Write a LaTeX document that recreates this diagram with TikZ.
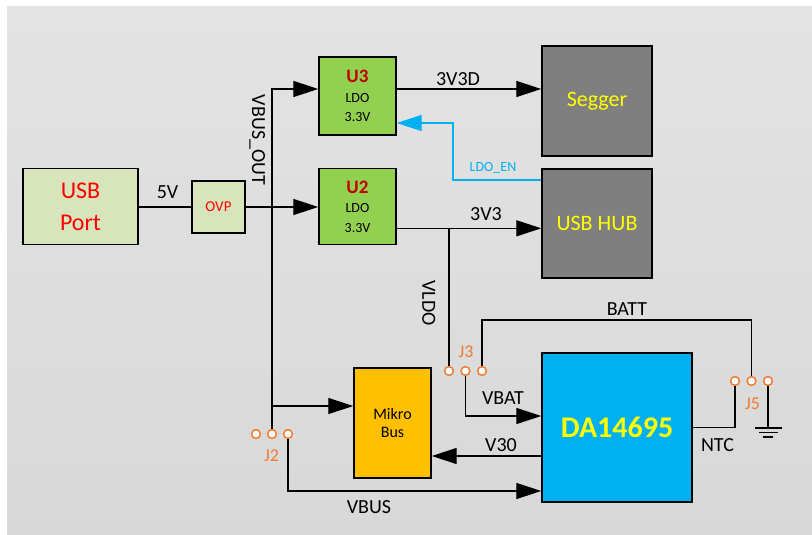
\documentclass[tikz,border=0pt]{standalone}
\usepackage{fontspec}
\setmainfont{Carlito}
\usetikzlibrary{arrows.meta}
\definecolor{bgtop}{HTML}{E3E3E3}
\definecolor{bgbot}{HTML}{D8D8D8}
\definecolor{palegreen}{HTML}{D8E4BC}
\definecolor{ldogreen}{HTML}{92D050}
\definecolor{darkred}{HTML}{C00000}
\definecolor{boxgray}{HTML}{7F7F7F}
\definecolor{mikroyel}{HTML}{FFC000}
\definecolor{dablue}{HTML}{00B0F0}
\definecolor{pinorange}{HTML}{ED7D31}
\definecolor{txtyellow}{HTML}{FFFF00}
\definecolor{txtred}{HTML}{FF0000}
\begin{document}
\begin{tikzpicture}[x=1pt,y=-1pt,
  box/.style={draw=black, line width=1.4pt, inner sep=0pt, align=center},
  wire/.style={draw=black, line width=1.3pt},
  arr/.style={wire, -{Triangle[length=25pt,width=16pt]}},
  bluearr/.style={draw=dablue, line width=1.3pt, -{Triangle[length=25pt,width=16pt]}},
  pin/.style={circle, draw=pinorange, fill=white, line width=1.5pt, minimum size=8.8pt, inner sep=0pt},
  lbl/.style={inner sep=0pt, font=\fontsize{20}{24}\selectfont},
  pinlbl/.style={inner sep=0pt, text=pinorange, font=\fontsize{18}{22}\selectfont},
  ldotxt/.style={font=\fontsize{14}{19.5}\selectfont}
]
\useasboundingbox (0,0) rectangle (812,535);
\fill[white] (0,0) rectangle (812,535);
\shade[top color=bgtop, bottom color=bgbot] (7,7) rectangle (818,541);

% boxes
\node[box, fill=palegreen, minimum width=115pt, minimum height=76pt, text=txtred,
      font=\fontsize{24}{32}\selectfont] (usb) at (80.5,206.5) {USB\\Port};
\node[box, fill=palegreen, minimum width=53pt, minimum height=52pt, text=txtred,
      font=\fontsize{15}{18}\selectfont] (ovp) at (218.5,207) {OVP};
\node[box, fill=ldogreen, minimum width=77pt, minimum height=78pt, ldotxt] (u3) at (357.5,96)
      {{\fontsize{19}{21}\selectfont\bfseries\color{darkred}U3}\\LDO\\3.3V};
\node[box, fill=ldogreen, minimum width=77pt, minimum height=76pt, ldotxt] (u2) at (357.5,206.5)
      {{\fontsize{19}{21}\selectfont\bfseries\color{darkred}U2}\\LDO\\3.3V};
\node[box, fill=boxgray, minimum width=110pt, minimum height=110pt, text=txtyellow,
      font=\fontsize{22}{26}\selectfont] (segger) at (597,101) {Segger};
\node[box, fill=boxgray, minimum width=110pt, minimum height=109pt, text=txtyellow,
      font=\fontsize{22}{26}\selectfont] (hub) at (597,223.5) {USB HUB};
\node[box, fill=mikroyel, minimum width=77pt, minimum height=110pt,
      font=\fontsize{16}{18.5}\selectfont] (mikro) at (392.5,423) {Mikro\\Bus};
\node[box, fill=dablue, minimum width=150pt, minimum height=149pt, text=txtyellow,
      font=\fontsize{30}{34}\selectfont\bfseries] (da) at (617,427.5) {DA14695};

% pins
\node[pin] (j2a) at (256,434) {};
\node[pin] (j2b) at (272,434) {};
\node[pin] (j2c) at (288,434) {};
\node[pin] (j3a) at (449,371) {};
\node[pin] (j3b) at (465.5,371) {};
\node[pin] (j3c) at (482,371) {};
\node[pin] (j5a) at (735,381) {};
\node[pin] (j5b) at (751.5,381) {};
\node[pin] (j5c) at (768,381) {};

% coordinates
\coordinate (vtop) at (272,89);
\coordinate (en1) at (453,123);
\coordinate (jn) at (449,228.3);
\coordinate (batt) at (600,320);
\coordinate (gnd) at (768,428);

% connectors
\draw[wire] (usb.east |- ovp.west) -- (ovp.west);
\draw[arr] (ovp.east) -- (ovp.east -| u2.west);
\draw[arr] (j2b.north) -- (vtop) -- (vtop -| u3.west);
\draw[arr] (vtop -| u3.east) -- (vtop -| segger.west);
\draw[bluearr] ([yshift=43.5pt]hub.west) -| (en1) -- (en1 -| u3.east);
\draw[arr] (jn -| u2.east) -- (jn -| hub.west);
\draw[wire] (jn) -- (j3a.north);
\draw[wire] (j3c.north) |- (batt) -| (j5b.north);
\draw[arr] (j3b.south) |- ([yshift=11.5pt]da.west);
\draw[arr] ([yshift=-28.5pt]da.west) -- ([yshift=-28.5pt]da.west -| mikro.east);
\draw[arr] (j2c.south) |- ([yshift=-63.5pt]da.west);
\draw[arr] ([yshift=17pt]mikro.west -| j2b) -- ([yshift=17pt]mikro.west);
\draw[wire] (da.east) -| (j5a.south);
\draw[wire] (j5c.south) -- (gnd);
\draw[line width=1.2pt] ([xshift=-13pt]gnd) -- ([xshift=14pt]gnd)
  ([xshift=-9pt,yshift=-4.5pt]gnd) -- ([xshift=10pt,yshift=-4.5pt]gnd)
  ([xshift=-4.7pt,yshift=-9pt]gnd) -- ([xshift=4.7pt,yshift=-9pt]gnd);

% labels
\node[lbl] (l5v) at (167.5,192) {5V};
\node[lbl] (l3v3d) at (458,79) {3V3D};
\node[lbl] (l3v3) at (486,214) {3V3};
\node[inner sep=0pt, text=dablue, font=\fontsize{14}{16}\selectfont] (lldoen) at (493,167.5) {LDO\_EN};
\node[lbl, rotate=-90] (lvbusout) at (257.3,140) {VBUS\_OUT};
\node[lbl, rotate=-90] (lvldo) at (428.7,303) {VLDO};
\node[lbl] (lbatt) at (627,309) {BATT};
\node[lbl] (lvbat) at (503,398) {VBAT};
\node[lbl] (lv30) at (501,445.5) {V30};
\node[lbl] (lntc) at (717.5,445.5) {NTC};
\node[lbl] (lvbus) at (369,507) {VBUS};
\node[pinlbl] (lj3) at (466,351.5) {J3};
\node[pinlbl] (lj5) at (752.5,403.5) {J5};
\node[pinlbl] (lj2) at (271.5,456) {J2};
\end{tikzpicture}
\end{document}
